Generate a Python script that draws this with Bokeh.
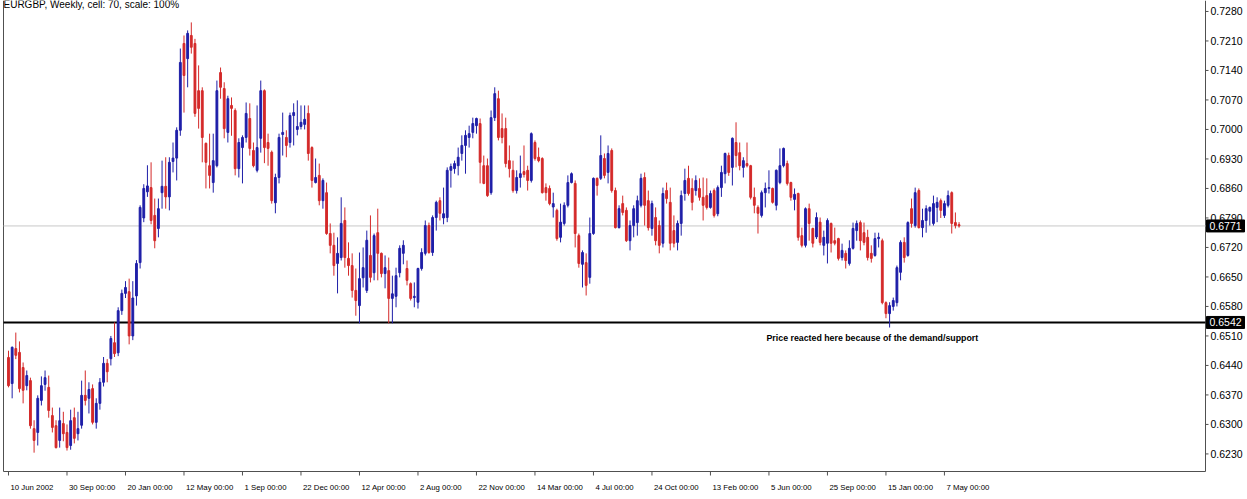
from bokeh.plotting import figure
from bokeh.models import Range1d, ColumnDataSource
from bokeh.core.properties import value
from bokeh.embed import file_html
from bokeh.resources import INLINE

# ---------------- data (EURGBP weekly) ----------------
opens = [0.6459, 0.6397, 0.6480, 0.6471, 0.6435, 0.6392, 0.6404, 0.6290, 0.6281, 0.6357,
         0.6395, 0.6388, 0.6321, 0.6297, 0.6262, 0.6302, 0.6281, 0.6250, 0.6316, 0.6278,
         0.6298, 0.6369, 0.6362, 0.6385, 0.6305, 0.6350, 0.6400, 0.6445, 0.6456, 0.6494,
         0.6470, 0.6570, 0.6611, 0.6615, 0.6510, 0.6605, 0.6684, 0.6790, 0.6852, 0.6862,
         0.6796, 0.6765, 0.6850, 0.6865, 0.6840, 0.6924, 0.6932, 0.6998, 0.7204, 0.7168,
         0.7223, 0.7204, 0.7092, 0.7092, 0.6967, 0.6914, 0.6874, 0.6914, 0.7135, 0.7097,
         0.6993, 0.7057, 0.7045, 0.6907, 0.6957, 0.6981, 0.7026, 0.6950, 0.6903, 0.6979,
         0.7092, 0.6969, 0.6946, 0.6826, 0.6886, 0.6988, 0.6981, 0.6969, 0.7033, 0.7000,
         0.7007, 0.7012, 0.7038, 0.6957, 0.6874, 0.6891, 0.6831, 0.6850, 0.6753, 0.6725,
         0.6682, 0.6696, 0.6784, 0.6694, 0.6677, 0.6618, 0.6582, 0.6648, 0.6618, 0.6701,
         0.6660, 0.6755, 0.6706, 0.6658, 0.6665, 0.6599, 0.6604, 0.6660, 0.6706, 0.6670,
         0.6634, 0.6601, 0.6590, 0.6670, 0.6706, 0.6772, 0.6708, 0.6791, 0.6831, 0.6790,
         0.6791, 0.6903, 0.6907, 0.6914, 0.6943, 0.6962, 0.6981, 0.6993, 0.7009, 0.7014,
         0.6914, 0.6914, 0.6850, 0.7028, 0.7073, 0.7002, 0.7002, 0.6926, 0.6903, 0.6855,
         0.6886, 0.6900, 0.6903, 0.6879, 0.6969, 0.6934, 0.6931, 0.6862, 0.6860, 0.6816,
         0.6808, 0.6744, 0.6777, 0.6820, 0.6874, 0.6872, 0.6748, 0.6680, 0.6684, 0.6649,
         0.6753, 0.6884, 0.6884, 0.6931, 0.6898, 0.6950, 0.6855, 0.6767, 0.6824, 0.6808,
         0.6736, 0.6772, 0.6779, 0.6820, 0.6886, 0.6831, 0.6765, 0.6791, 0.6772, 0.6730,
         0.6855, 0.6827, 0.6760, 0.6732, 0.6777, 0.6848, 0.6884, 0.6860, 0.6855, 0.6860,
         0.6839, 0.6843, 0.6815, 0.6855, 0.6800, 0.6862, 0.6895, 0.6938, 0.6910, 0.6969,
         0.6945, 0.6910, 0.6919, 0.6914, 0.6839, 0.6815, 0.6796, 0.6850, 0.6860, 0.6860,
         0.6820, 0.6874, 0.6914, 0.6919, 0.6874, 0.6834, 0.6848, 0.6748, 0.6725, 0.6812,
         0.6765, 0.6745, 0.6780, 0.6725, 0.6730, 0.6777, 0.6736, 0.6741, 0.6696, 0.6706,
         0.6682, 0.6718, 0.6760, 0.6779, 0.6755, 0.6744, 0.6706, 0.6701, 0.6741, 0.6736,
         0.6589, 0.6563, 0.6580, 0.6589, 0.6661, 0.6732, 0.6701, 0.6812, 0.6772, 0.6855,
         0.6767, 0.6784, 0.6806, 0.6777, 0.6815, 0.6831, 0.6796, 0.6820, 0.6850, 0.6779,
         0.6774]
highs = [0.6475, 0.6485, 0.6518, 0.6497, 0.6447, 0.6428, 0.6411, 0.6310, 0.6369, 0.6414,
         0.6428, 0.6416, 0.6340, 0.6310, 0.6340, 0.6330, 0.6300, 0.6335, 0.6340, 0.6330,
         0.6404, 0.6428, 0.6400, 0.6395, 0.6362, 0.6410, 0.6460, 0.6455, 0.6510, 0.6542,
         0.6578, 0.6620, 0.6640, 0.6646, 0.6640, 0.6690, 0.6820, 0.6870, 0.6915, 0.6922,
         0.6836, 0.6836, 0.6926, 0.6934, 0.6934, 0.6969, 0.7005, 0.7192, 0.7223, 0.7235,
         0.7254, 0.7215, 0.7152, 0.7100, 0.6969, 0.6990, 0.6990, 0.7116, 0.7147, 0.7112,
         0.7080, 0.7076, 0.7050, 0.6979, 0.6986, 0.7064, 0.7062, 0.6969, 0.7057, 0.7116,
         0.7095, 0.6990, 0.6950, 0.6895, 0.6990, 0.7040, 0.6998, 0.7040, 0.7062, 0.7069,
         0.7057, 0.7057, 0.7057, 0.6960, 0.6931, 0.6919, 0.6884, 0.6874, 0.6777, 0.6755,
         0.6744, 0.6839, 0.6815, 0.6732, 0.6706, 0.6670, 0.6708, 0.6720, 0.6760, 0.6796,
         0.6753, 0.6812, 0.6708, 0.6701, 0.6696, 0.6653, 0.6672, 0.6725, 0.6737, 0.6689,
         0.6637, 0.6637, 0.6672, 0.6718, 0.6784, 0.6779, 0.6796, 0.6831, 0.6839, 0.6862,
         0.6910, 0.6919, 0.6926, 0.6957, 0.6986, 0.6998, 0.7009, 0.7028, 0.7028, 0.7026,
         0.6938, 0.6931, 0.7045, 0.7100, 0.7092, 0.7038, 0.7028, 0.6962, 0.6926, 0.6903,
         0.6938, 0.6962, 0.6914, 0.6993, 0.6974, 0.6957, 0.6934, 0.6872, 0.6867, 0.6850,
         0.6812, 0.6824, 0.6827, 0.6891, 0.6898, 0.6879, 0.6753, 0.6713, 0.6706, 0.6791,
         0.6886, 0.6886, 0.6986, 0.6943, 0.6962, 0.6955, 0.6862, 0.6820, 0.6843, 0.6815,
         0.6784, 0.6820, 0.6843, 0.6895, 0.6898, 0.6855, 0.6831, 0.6815, 0.6784, 0.6862,
         0.6874, 0.6862, 0.6796, 0.6784, 0.6855, 0.6907, 0.6914, 0.6884, 0.6891, 0.6884,
         0.6886, 0.6884, 0.6855, 0.6860, 0.6867, 0.6914, 0.6945, 0.6945, 0.6981, 0.7017,
         0.6969, 0.6934, 0.6969, 0.6916, 0.6862, 0.6820, 0.6855, 0.6874, 0.6903, 0.6862,
         0.6905, 0.6955, 0.6957, 0.6926, 0.6876, 0.6860, 0.6850, 0.6767, 0.6815, 0.6824,
         0.6767, 0.6803, 0.6791, 0.6760, 0.6789, 0.6779, 0.6767, 0.6743, 0.6729, 0.6713,
         0.6737, 0.6779, 0.6784, 0.6784, 0.6779, 0.6762, 0.6725, 0.6755, 0.6755, 0.6741,
         0.6592, 0.6590, 0.6601, 0.6677, 0.6737, 0.6744, 0.6782, 0.6836, 0.6862, 0.6860,
         0.6812, 0.6820, 0.6817, 0.6843, 0.6839, 0.6836, 0.6831, 0.6855, 0.6853, 0.6803,
         0.6780]
lows = [0.6388, 0.6362, 0.6455, 0.6376, 0.6350, 0.6381, 0.6290, 0.6233, 0.6250, 0.6345,
        0.6380, 0.6316, 0.6281, 0.6243, 0.6245, 0.6260, 0.6238, 0.6240, 0.6255, 0.6262,
        0.6290, 0.6345, 0.6326, 0.6300, 0.6290, 0.6335, 0.6390, 0.6400, 0.6440, 0.6460,
        0.6462, 0.6560, 0.6600, 0.6490, 0.6500, 0.6582, 0.6670, 0.6780, 0.6840, 0.6775,
        0.6718, 0.6744, 0.6812, 0.6812, 0.6808, 0.6898, 0.6879, 0.6985, 0.7040, 0.7100,
        0.7180, 0.7030, 0.7002, 0.6922, 0.6860, 0.6860, 0.6850, 0.6910, 0.7073, 0.6979,
        0.6969, 0.6985, 0.6891, 0.6886, 0.6872, 0.6969, 0.6938, 0.6910, 0.6898, 0.6945,
        0.6920, 0.6914, 0.6824, 0.6801, 0.6872, 0.6938, 0.6934, 0.6957, 0.6962, 0.6986,
        0.7000, 0.7000, 0.6926, 0.6862, 0.6872, 0.6820, 0.6812, 0.6750, 0.6706, 0.6653,
        0.6611, 0.6689, 0.6672, 0.6653, 0.6601, 0.6558, 0.6540, 0.6625, 0.6612, 0.6637,
        0.6642, 0.6642, 0.6649, 0.6623, 0.6540, 0.6540, 0.6578, 0.6649, 0.6680, 0.6630,
        0.6594, 0.6578, 0.6575, 0.6665, 0.6701, 0.6705, 0.6700, 0.6760, 0.6784, 0.6775,
        0.6780, 0.6862, 0.6895, 0.6891, 0.6926, 0.6895, 0.6957, 0.6979, 0.6990, 0.6872,
        0.6870, 0.6840, 0.6845, 0.7020, 0.6974, 0.6967, 0.6910, 0.6886, 0.6850, 0.6848,
        0.6862, 0.6886, 0.6855, 0.6874, 0.6926, 0.6922, 0.6848, 0.6831, 0.6820, 0.6791,
        0.6736, 0.6732, 0.6772, 0.6815, 0.6872, 0.6720, 0.6672, 0.6625, 0.6606, 0.6634,
        0.6750, 0.6843, 0.6880, 0.6884, 0.6872, 0.6850, 0.6765, 0.6765, 0.6796, 0.6733,
        0.6713, 0.6744, 0.6748, 0.6815, 0.6772, 0.6760, 0.6748, 0.6725, 0.6706, 0.6720,
        0.6824, 0.6713, 0.6720, 0.6713, 0.6748, 0.6831, 0.6843, 0.6808, 0.6843, 0.6831,
        0.6784, 0.6810, 0.6812, 0.6791, 0.6794, 0.6840, 0.6872, 0.6890, 0.6867, 0.6910,
        0.6903, 0.6886, 0.6910, 0.6834, 0.6801, 0.6753, 0.6791, 0.6815, 0.6848, 0.6824,
        0.6808, 0.6870, 0.6910, 0.6867, 0.6831, 0.6808, 0.6736, 0.6720, 0.6720, 0.6736,
        0.6720, 0.6740, 0.6725, 0.6701, 0.6682, 0.6708, 0.6725, 0.6689, 0.6689, 0.6670,
        0.6677, 0.6715, 0.6736, 0.6713, 0.6725, 0.6689, 0.6684, 0.6698, 0.6720, 0.6585,
        0.6552, 0.6530, 0.6570, 0.6580, 0.6642, 0.6684, 0.6698, 0.6767, 0.6767, 0.6765,
        0.6744, 0.6755, 0.6772, 0.6772, 0.6780, 0.6790, 0.6790, 0.6815, 0.6753, 0.6765,
        0.6767]
closes = [0.6392, 0.6483, 0.6464, 0.6385, 0.6381, 0.6416, 0.6297, 0.6262, 0.6362, 0.6392,
          0.6411, 0.6333, 0.6293, 0.6245, 0.6309, 0.6278, 0.6245, 0.6309, 0.6267, 0.6290,
          0.6369, 0.6357, 0.6383, 0.6305, 0.6350, 0.6400, 0.6445, 0.6425, 0.6504, 0.6468,
          0.6570, 0.6611, 0.6625, 0.6510, 0.6600, 0.6682, 0.6815, 0.6860, 0.6866, 0.6784,
          0.6736, 0.6812, 0.6865, 0.6840, 0.6922, 0.6932, 0.6998, 0.7159, 0.7128, 0.7228,
          0.7195, 0.7038, 0.7050, 0.6981, 0.6922, 0.6891, 0.6926, 0.7092, 0.7100, 0.7002,
          0.7073, 0.7050, 0.6907, 0.6969, 0.6981, 0.7038, 0.6955, 0.6914, 0.6957, 0.7092,
          0.6957, 0.6955, 0.6831, 0.6886, 0.6981, 0.6993, 0.6962, 0.7033, 0.7040, 0.7007,
          0.7017, 0.7024, 0.6943, 0.6879, 0.6886, 0.6831, 0.6879, 0.6753, 0.6725, 0.6677,
          0.6706, 0.6777, 0.6696, 0.6677, 0.6618, 0.6594, 0.6646, 0.6672, 0.6737, 0.6649,
          0.6748, 0.6706, 0.6658, 0.6672, 0.6599, 0.6610, 0.6653, 0.6718, 0.6725, 0.6642,
          0.6599, 0.6604, 0.6670, 0.6708, 0.6772, 0.6708, 0.6791, 0.6827, 0.6801, 0.6800,
          0.6903, 0.6912, 0.6919, 0.6934, 0.6962, 0.6986, 0.6990, 0.7014, 0.7026, 0.6922,
          0.6872, 0.6843, 0.7028, 0.7085, 0.6981, 0.6981, 0.6919, 0.6907, 0.6855, 0.6886,
          0.6895, 0.6893, 0.6879, 0.6990, 0.6931, 0.6926, 0.6850, 0.6850, 0.6824, 0.6824,
          0.6741, 0.6780, 0.6820, 0.6874, 0.6895, 0.6753, 0.6682, 0.6708, 0.6630, 0.6753,
          0.6884, 0.6867, 0.6938, 0.6891, 0.6943, 0.6855, 0.6767, 0.6812, 0.6803, 0.6736,
          0.6772, 0.6812, 0.6831, 0.6884, 0.6820, 0.6767, 0.6824, 0.6736, 0.6725, 0.6848,
          0.6836, 0.6730, 0.6730, 0.6777, 0.6843, 0.6879, 0.6848, 0.6827, 0.6879, 0.6839,
          0.6820, 0.6815, 0.6848, 0.6796, 0.6862, 0.6898, 0.6943, 0.6898, 0.6979, 0.6938,
          0.6914, 0.6926, 0.6914, 0.6839, 0.6820, 0.6801, 0.6850, 0.6860, 0.6862, 0.6827,
          0.6903, 0.6914, 0.6955, 0.6872, 0.6839, 0.6846, 0.6744, 0.6725, 0.6812, 0.6777,
          0.6730, 0.6791, 0.6732, 0.6744, 0.6784, 0.6730, 0.6730, 0.6694, 0.6713, 0.6689,
          0.6718, 0.6765, 0.6777, 0.6736, 0.6732, 0.6696, 0.6694, 0.6741, 0.6744, 0.6589,
          0.6563, 0.6582, 0.6594, 0.6672, 0.6732, 0.6696, 0.6779, 0.6777, 0.6850, 0.6767,
          0.6784, 0.6812, 0.6815, 0.6824, 0.6827, 0.6808, 0.6824, 0.6843, 0.6777, 0.6772,
          0.6771]

tick_weeks = [0, 16, 32, 48, 64, 80, 96, 112, 128, 144, 160, 176, 192, 208, 224, 240, 256]
tick_labels = ["10 Jun 2002", "30 Sep 00:00", "20 Jan 00:00", "12 May 00:00", "1 Sep 00:00",
               "22 Dec 00:00", "12 Apr 00:00", "2 Aug 00:00", "22 Nov 00:00", "14 Mar 00:00",
               "4 Jul 00:00", "24 Oct 00:00", "13 Feb 00:00", "5 Jun 00:00", "25 Sep 00:00",
               "15 Jan 00:00", "7 May 00:00"]
price_ticks = [0.6230, 0.6300, 0.6370, 0.6440, 0.6510, 0.6580, 0.6650, 0.6720,
               0.6790, 0.6860, 0.6930, 0.7000, 0.7070, 0.7140, 0.7210, 0.7280]
current_price = 0.6771
support_level = 0.6542
chart_title = "EURGBP, Weekly, cell: 70, scale: 100%"
note_text = "Price reacted here because of the demand/support"

# ---------------- layout / styling ----------------
UP = "#1f1fa8"
DOWN = "#d42a2a"
FRAME = "#505050"
FONT = value("Liberation Sans")
PX_X = 3.656          # pixels per weekly bar
PX_Y = 0.0002373      # price per pixel
W, H = 1246, 498
XS = -2.188                     # range start (page x = 0)
XE = XS + W / PX_X
YT = 0.7306                     # range top (page y = 0)
YB = YT - H * PX_Y
CL, CR = XS + 3 / PX_X, XS + 1205 / PX_X     # chart area left / right
CB = YT - 471 * PX_Y                         # chart area bottom

n = len(closes)
xs = list(range(n))
colors = [UP if c >= o else DOWN for o, c in zip(opens, closes)]
src = ColumnDataSource(dict(
    x=xs, h=highs, l=lows,
    top=[max(o, c) for o, c in zip(opens, closes)],
    bot=[min(o, c) for o, c in zip(opens, closes)],
    color=colors))

p = figure(width=W, height=H, x_range=Range1d(XS, XE), y_range=Range1d(YB, YT),
           x_axis_location=None, y_axis_location=None,
           output_backend="svg", toolbar_location=None,
           min_border=0, min_border_left=0, min_border_right=0,
           min_border_top=0, min_border_bottom=0)
p.grid.visible = False
p.outline_line_color = None
p.background_fill_color = "white"
p.border_fill_color = "white"

# chart frame
p.segment(x0=[CL, CR, CL], y0=[YT, YT, CB], x1=[CL, CR, CR], y1=[CB, CB, CB],
          line_color=FRAME, line_width=1)

# horizontal levels (inside the chart area only)
p.segment(x0=[CL], y0=[current_price], x1=[CR], y1=[current_price], line_color="#c8c8c8", line_width=1)
p.segment(x0=[CL], y0=[support_level], x1=[CR], y1=[support_level], line_color="black", line_width=2)

# candles
p.segment(x0="x", y0="h", x1="x", y1="l", source=src, line_color="color", line_width=1)
p.vbar(x="x", width=0.5, top="top", bottom="bot", source=src,
       fill_color="color", line_color="color", line_width=1)

# price scale on the right
p.segment(x0=[CR] * len(price_ticks), y0=price_ticks,
          x1=[CR + 3 / PX_X] * len(price_ticks), y1=price_ticks, line_color=FRAME, line_width=1)
p.text(x=[CR + 5 / PX_X] * len(price_ticks), y=price_ticks,
       text=[f"{v:.4f}" for v in price_ticks],
       text_font=FONT, text_font_size="10.5px", text_color="black",
       text_baseline="middle", text_align="left")

# boxed price tags for the two horizontal lines
levels = [current_price, support_level]
p.quad(left=[CR + 1 / PX_X] * 2, right=[CR + 39 / PX_X] * 2,
       top=[v + 6 * PX_Y for v in levels], bottom=[v - 6 * PX_Y for v in levels],
       fill_color="black", line_color="black")
p.text(x=[CR + 4 / PX_X] * 2, y=levels, text=[f"{v:.4f}" for v in levels],
       text_font=FONT, text_font_size="10.5px", text_color="white",
       text_baseline="middle", text_align="left")

# time scale at the bottom
p.segment(x0=tick_weeks, y0=[CB] * len(tick_weeks), x1=tick_weeks,
          y1=[CB - 4 * PX_Y] * len(tick_weeks), line_color=FRAME, line_width=1)
p.text(x=tick_weeks, y=[YT - 487 * PX_Y] * len(tick_weeks), text=tick_labels, x_offset=2,
       text_font=FONT, text_font_size="7.8px", text_color="black",
       text_baseline="middle", text_align="left")

# texts
p.text(x=[CL], y=[YT - 4 * PX_Y], text=[chart_title],
       text_font=FONT, text_font_size="10px", text_color="black",
       text_baseline="middle", text_align="left")
p.text(x=[XS + 766 / PX_X], y=[YT - 337 * PX_Y], text=[note_text],
       text_font=FONT, text_font_size="8.8px", text_font_style="bold", text_color="black",
       text_baseline="middle", text_align="left")

open("out.html", "w").write(file_html(p, INLINE))
